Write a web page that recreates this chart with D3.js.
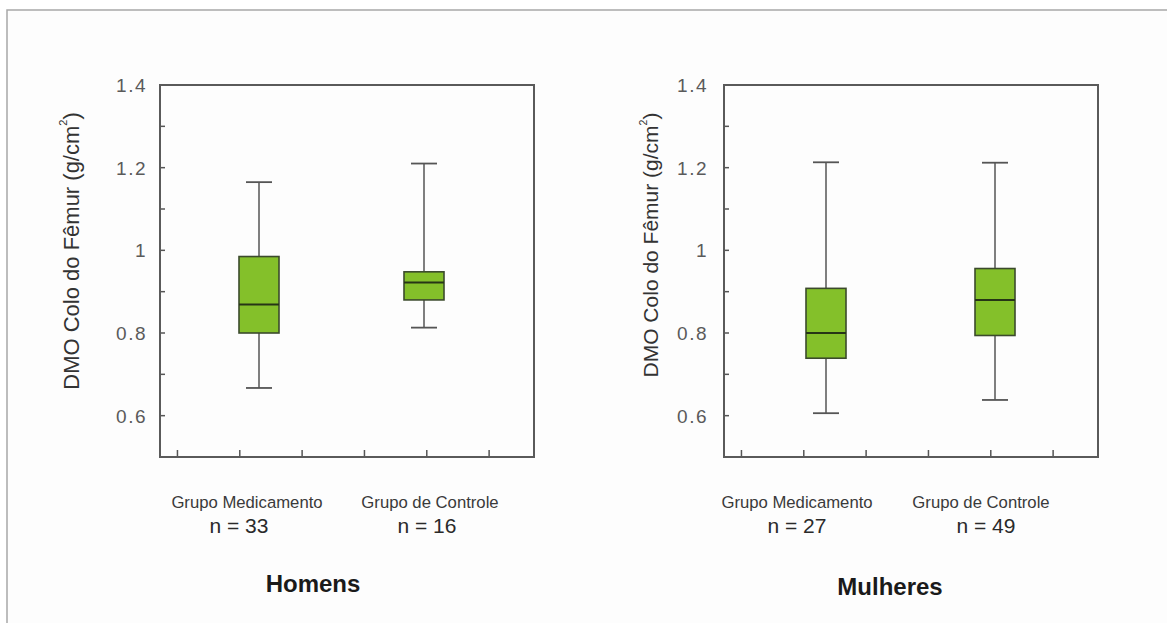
<!DOCTYPE html>
<html><head><meta charset="utf-8">
<script src="https://cdn.jsdelivr.net/npm/d3@7/dist/d3.min.js"></script>
<style>html,body{margin:0;padding:0;background:#fff;}svg{display:block;font-family:Arial,"Liberation Sans",sans-serif;}</style>
</head><body><svg id="chart" width="1167" height="623"></svg>
<script>
// ---- data ----
const panelTitles = ["Homens", "Mulheres"];
const groups = ["Grupo Medicamento", "Grupo de Controle"];
const nHomens = [33, 16];
const nMulheres = [27, 49];
const homensMin = [0.667, 0.813];
const homensQ1 = [0.800, 0.880];
const homensMedian = [0.869, 0.922];
const homensQ3 = [0.985, 0.948];
const homensMax = [1.165, 1.210];
const mulheresMin = [0.606, 0.638];
const mulheresQ1 = [0.739, 0.794];
const mulheresMedian = [0.800, 0.880];
const mulheresQ3 = [0.908, 0.956];
const mulheresMax = [1.213, 1.212];
const yLabelTicks = [0.6, 0.8, 1, 1.2, 1.4];
const yMinorTicks = [0.6, 0.7, 0.8, 0.9, 1.0, 1.1, 1.2, 1.3];
const xMinorTicks = [0, 1, 2, 3, 4, 5];
const yTitle = "DMO Colo do Fêmur (g/cm";

const svg = d3.select("#chart");
// outer frame
svg.append("rect").attr("x", 7).attr("y", 10).attr("width", 1170).attr("height", 620)
  .attr("fill", "#fdfdfd").attr("stroke", "#a8a8a8").attr("stroke-width", 1.5);

const panels = [
  {title: panelTitles[0], n: nHomens, min: homensMin, q1: homensQ1, med: homensMedian, q3: homensQ3, max: homensMax,
   left: 160, boxRange: [99, 264], labelX: [87, 270], nX: [79, 267], titleX: 153, titleY: 592,
   yTitleX: -87, yTitleY: 251, yTitleSize: 22, yLabelGap: 13},
  {title: panelTitles[1], n: nMulheres, min: mulheresMin, q1: mulheresQ1, med: mulheresMedian, q3: mulheresQ3, max: mulheresMax,
   left: 724, boxRange: [102, 271], labelX: [73, 257], nX: [73, 262], titleX: 166, titleY: 595,
   yTitleX: -72, yTitleY: 245, yTitleSize: 21, yLabelGap: 16}
];

const plotTop = 85, plotBottom = 457, W = 374;
const y = d3.scaleLinear().domain([0.5, 1.4]).range([plotBottom, plotTop]);

panels.forEach(p => {
  const g = svg.append("g").attr("transform", `translate(${p.left},0)`);
  const xTick = d3.scaleLinear().domain([-0.28, 5.72]).range([0, W]);
  const xBox = d3.scalePoint().domain(groups).range(p.boxRange);

  // y ticks (inside)
  g.append("g").selectAll("line").data(yMinorTicks).join("line")
    .attr("x1", 0).attr("x2", 5).attr("y1", d => y(d)).attr("y2", d => y(d))
    .attr("stroke", "#555").attr("stroke-width", 1.5);
  // x ticks (inside)
  g.append("g").selectAll("line").data(xMinorTicks).join("line")
    .attr("x1", d => xTick(d)).attr("x2", d => xTick(d)).attr("y1", plotBottom).attr("y2", plotBottom - 7)
    .attr("stroke", "#555").attr("stroke-width", 1.5);
  // y labels
  g.append("g").selectAll("text").data(yLabelTicks).join("text")
    .attr("x", -p.yLabelGap).attr("y", d => y(d)).attr("dy", "0.36em")
    .attr("text-anchor", "end").attr("fill", "#5a5a5a").attr("font-size", 19)
    .attr("letter-spacing", 1.5)
    .text(d => String(d));
  // y title
  const yt = g.append("text")
    .attr("transform", `translate(${p.yTitleX},${p.yTitleY}) rotate(-90)`)
    .attr("text-anchor", "middle").attr("dominant-baseline", "middle")
    .attr("fill", "#333").attr("font-size", p.yTitleSize);
  yt.append("tspan").text(yTitle);
  yt.append("tspan").attr("font-size", p.yTitleSize * 0.5).attr("dy", "-0.8em").text("2");
  yt.append("tspan").attr("dy", "0.4em").text(")");

  // boxes
  const data = groups.map((gr, i) => ({gr, min: p.min[i], q1: p.q1[i], med: p.med[i], q3: p.q3[i], max: p.max[i]}));
  const bw = 40, cw = 26;
  const bg = g.append("g").selectAll("g").data(data).join("g")
    .attr("transform", d => `translate(${xBox(d.gr)},0)`);
  bg.append("line").attr("x1", 0).attr("x2", 0).attr("y1", d => y(d.max)).attr("y2", d => y(d.q3))
    .attr("stroke", "#555").attr("stroke-width", 1.5);
  bg.append("line").attr("x1", 0).attr("x2", 0).attr("y1", d => y(d.q1)).attr("y2", d => y(d.min))
    .attr("stroke", "#555").attr("stroke-width", 1.5);
  bg.append("line").attr("x1", -cw / 2).attr("x2", cw / 2).attr("y1", d => y(d.max)).attr("y2", d => y(d.max))
    .attr("stroke", "#555").attr("stroke-width", 1.8);
  bg.append("line").attr("x1", -cw / 2).attr("x2", cw / 2).attr("y1", d => y(d.min)).attr("y2", d => y(d.min))
    .attr("stroke", "#555").attr("stroke-width", 1.8);
  bg.append("rect").attr("x", -bw / 2).attr("width", bw)
    .attr("y", d => y(d.q3)).attr("height", d => y(d.q1) - y(d.q3))
    .attr("fill", "#84c02a").attr("stroke", "#3b4a2c").attr("stroke-width", 1.6);
  bg.append("line").attr("x1", -bw / 2).attr("x2", bw / 2).attr("y1", d => y(d.med)).attr("y2", d => y(d.med))
    .attr("stroke", "#263516").attr("stroke-width", 2);

  // frame
  g.append("rect").attr("x", 0).attr("y", plotTop).attr("width", W).attr("height", plotBottom - plotTop)
    .attr("fill", "none").attr("stroke", "#5a5a5a").attr("stroke-width", 2);

  // category labels
  g.append("g").selectAll("text").data(groups).join("text")
    .attr("x", (d, i) => p.labelX[i]).attr("y", 508).attr("text-anchor", "middle")
    .attr("fill", "#3a3a3a").attr("font-size", 16.7).text(d => d);
  g.append("g").selectAll("text").data(p.n).join("text")
    .attr("x", (d, i) => p.nX[i]).attr("y", 533).attr("text-anchor", "middle")
    .attr("fill", "#2a2a2a").attr("font-size", 21).text(d => "n = " + d);
  // panel title
  g.append("text").attr("x", p.titleX).attr("y", p.titleY).attr("text-anchor", "middle")
    .attr("font-weight", "bold").attr("font-size", 24).attr("fill", "#1a1a1a").text(p.title);
});
</script></body></html>
